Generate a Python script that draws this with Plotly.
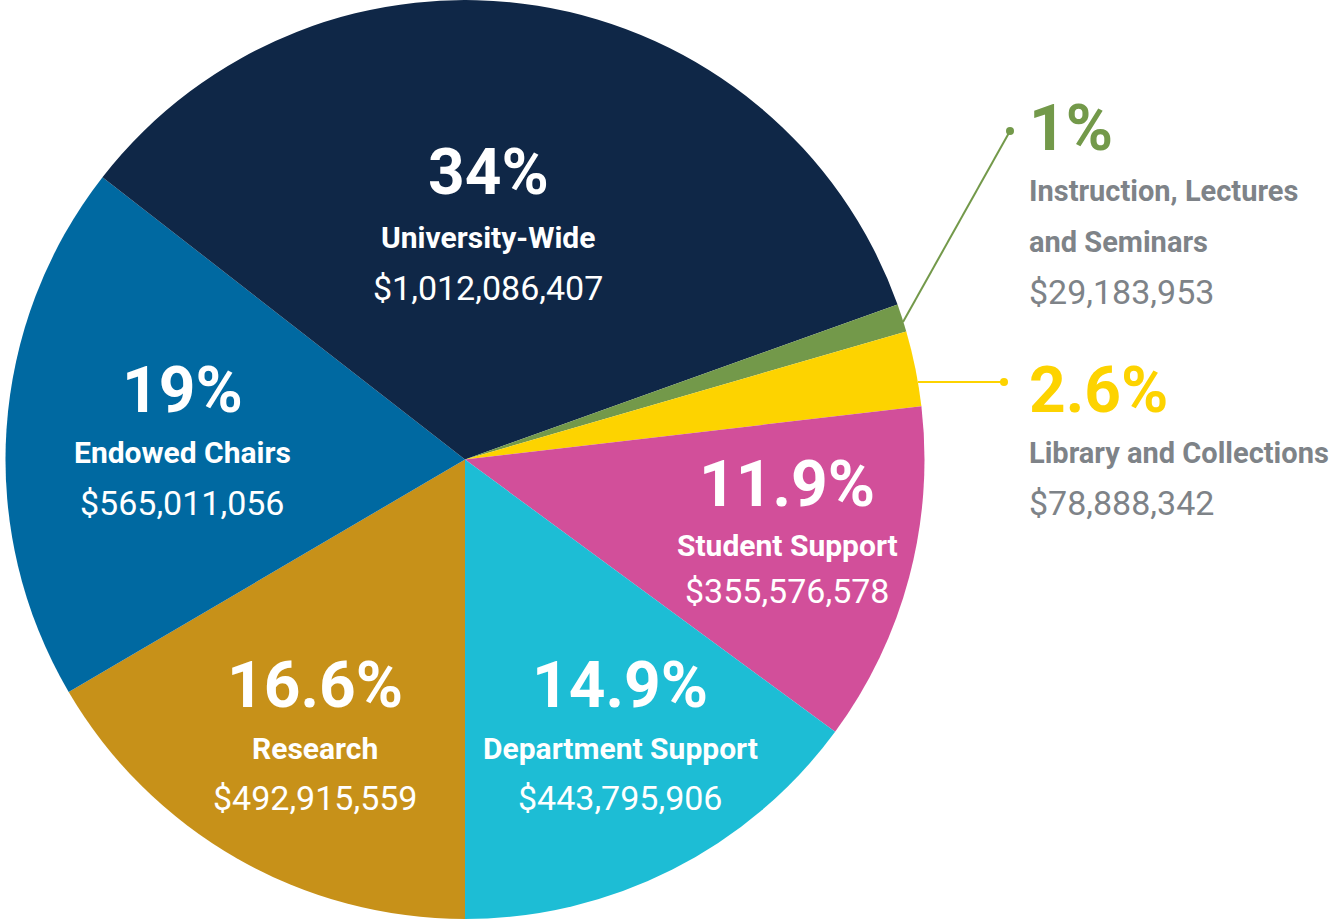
import plotly.graph_objects as go

# ---- data ----
categories = ["Research", "Endowed Chairs", "University-Wide",
              "Instruction, Lectures and Seminars", "Library and Collections",
              "Student Support", "Department Support"]
amounts = [492915559, 565011056, 1012086407, 29183953, 78888342, 355576578, 443795906]
pct_labels = ["16.6%", "19%", "34%", "1%", "2.6%", "11.9%", "14.9%"]
colors = ["#C79119", "#0069A1", "#0F2747", "#73994A", "#FDD300", "#D24F9A", "#1DBDD5"]

# ---- layout / style ----
W, H = 1339, 919
COND = "Roboto, Lato, sans-serif"
REG = "Roboto, Inter, sans-serif"
GRAY = "#7E8388"
PCT_SIZE, NAME_SIZE, AMT_SIZE = 64, 30, 34
OUT_NAME_SIZE = 29

def px(x):
    return x / W

def py(y):
    return 1 - y / H

fig = go.Figure(go.Pie(
    labels=categories, values=amounts, sort=False, direction="clockwise",
    rotation=180, marker=dict(colors=colors, line=dict(width=0)),
    textinfo="none", hoverinfo="label+value+percent",
    domain=dict(x=[px(5), px(925)], y=[0, 1]),
))

# inside label positions (pixel): x-center, y of percent, name, amount
inside_pos = {
    "University-Wide": (488, 173, 237, 288),
    "Endowed Chairs": (182, 390, 453, 503),
    "Research": (315, 685, 748, 798),
    "Department Support": (620, 685, 748, 798),
    "Student Support": (787, 484, 545, 591),
}
# outside label positions (pixel): x-left, y lines
outside_pos = {
    "Instruction, Lectures and Seminars": (1027, [128, 191, 242, 292],
                                           ["Instruction, Lectures", "and Seminars"]),
    "Library and Collections": (1027, [390, 453, 503], ["Library and Collections"]),
}
leaders = {
    "Instruction, Lectures and Seminars": ((903, 322), (1010, 131)),
    "Library and Collections": ((918, 382), (1004, 382)),
}

annotations = []
shapes = []
for cat, amt, pct, col in zip(categories, amounts, pct_labels, colors):
    money = "${:,}".format(amt)
    if cat in inside_pos:
        x, y1, y2, y3 = inside_pos[cat]
        items = [(pct, True, PCT_SIZE, "white"), (cat, True, NAME_SIZE, "white"),
                 (money, False, AMT_SIZE, "white")]
        ys = [y1, y2, y3]
        anchor = "center"
    else:
        x, ys, name_lines = outside_pos[cat]
        items = ([(pct, True, PCT_SIZE, col)] + [(n, True, OUT_NAME_SIZE, GRAY) for n in name_lines]
                 + [(money, False, AMT_SIZE, GRAY)])
        anchor = "left"
        (x0, y0), (x1, y1) = leaders[cat]
        shapes.append(dict(type="line", xref="paper", yref="paper",
                           x0=px(x0), y0=py(y0), x1=px(x1), y1=py(y1),
                           line=dict(color=col, width=2)))
        shapes.append(dict(type="circle", xref="paper", yref="paper",
                           xsizemode="pixel", ysizemode="pixel",
                           xanchor=px(x1), yanchor=py(y1), x0=-4, x1=4, y0=-4, y1=4,
                           fillcolor=col, line=dict(width=0)))
    for (txt, bold, size, c), yy in zip(items, ys):
        annotations.append(dict(
            x=px(x), y=py(yy), xref="paper", yref="paper",
            text=("<b>%s</b>" % txt) if bold else txt,
            showarrow=False, xanchor=anchor, yanchor="middle",
            font=dict(family=COND if bold else REG, size=size, color=c)))

fig.update_layout(
    width=W, height=H, margin=dict(l=0, r=0, t=0, b=0),
    paper_bgcolor="white", plot_bgcolor="white", showlegend=False,
    annotations=annotations, shapes=shapes,
)

fig.write_html("out.html", config={"displayModeBar": False},
               post_script="document.body.style.margin='0';document.body.style.overflow='hidden';")
